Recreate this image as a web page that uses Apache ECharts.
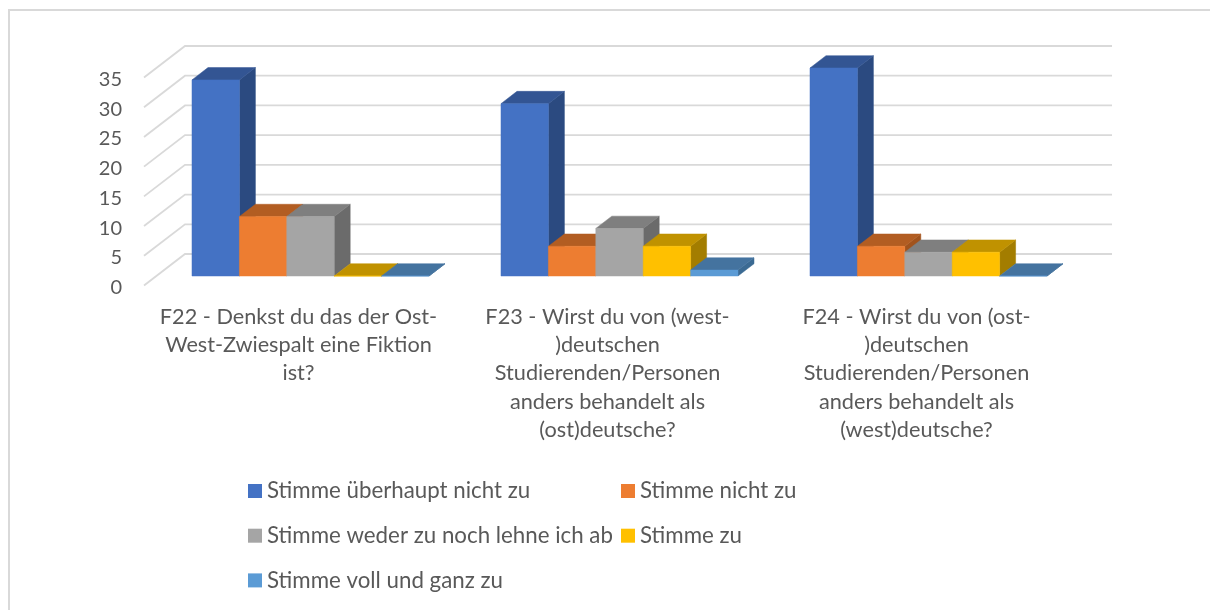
<!DOCTYPE html>
<html>
<head>
<meta charset="utf-8">
<title>F22 - F24</title>
<script src="https://cdn.jsdelivr.net/npm/echarts@6/dist/echarts.min.js"></script>
<style>
  html, body { margin: 0; padding: 0; background: #fff; }
  #main { width: 1210px; height: 610px; }
</style>
</head>
<body>
<div id="main"></div>
<script>
const categories = [
  'F22 - Denkst du das der Ost-\nWest-Zwiespalt eine Fiktion\nist?',
  'F23 - Wirst du von (west-\n)deutschen\nStudierenden/Personen\nanders behandelt als\n(ost)deutsche?',
  'F24 - Wirst du von (ost-\n)deutschen\nStudierenden/Personen\nanders behandelt als\n(west)deutsche?'
]
const tickValues = [0, 5, 10, 15, 20, 25, 30, 35]

const ueberhauptNicht = [33, 29, 35]
const nicht = [10, 5, 5]
const weder = [10, 8, 4]
const zu = [0, 5, 4]
const vollUndGanz = [0, 1, 0]

const seriesNames = [
  'Stimme überhaupt nicht zu',
  'Stimme nicht zu',
  'Stimme weder zu noch lehne ich ab',
  'Stimme zu',
  'Stimme voll und ganz zu'
]
const seriesValues = [ueberhauptNicht, nicht, weder, zu, vollUndGanz]

// front, top, side
const seriesColors = [
  ['#4472c4', '#335593', '#2b4a80'],
  ['#ed7d31', '#b25d22', '#a1531d'],
  ['#a5a5a5', '#7f7f7f', '#6b6b6b'],
  ['#ffc000', '#c09200', '#a37d00'],
  ['#5b9bd5', '#44739f', '#3b6a93']
]

const fontName = 'Lato'
const textColor = '#595959'
const lineColor = '#d9d9d9'

// the grid sits a bit low so the tick labels land right, the drawn floor is lifted back up
const floorLift = -2
// floor of the fake 3d box, in pixels
const wallDx = 41
const wallDy = -31.5
// where a bar front sits inside that floor, and how deep the bar is
const barShiftX = 12
const barShiftY = -11.5
const barDepthX = 16
const barDepthY = -12.3
const barShare = 0.1534

function renderGridLine(params, api) {
  const v = api.value(0)
  const box = params.coordSys
  const y = api.coord([0, v])[1] + floorLift
  return {
    type: 'polyline',
    silent: true,
    shape: {
      points: [
        [box.x, y],
        [box.x + wallDx, y + wallDy],
        [box.x + box.width + wallDx, y + wallDy]
      ]
    },
    style: { stroke: lineColor, lineWidth: 1.8, fill: null }
  }
}

function makeBarRenderer(index) {
  return function (params, api) {
    const cat = api.value(0)
    const val = api.value(1)
    const catWidth = api.size([1, 0])[0]
    const w = catWidth * barShare
    const center = api.coord([cat, 0])[0]
    const x0 = center + (index - 2.5) * w + barShiftX
    const x1 = x0 + w
    const yBase = api.coord([cat, 0])[1] + barShiftY
    const yTop = api.coord([cat, val])[1] + barShiftY
    const c = seriesColors[index]
    const face = (points, fill) => ({
      type: 'polygon',
      shape: { points: points },
      style: { fill: fill, stroke: fill, lineWidth: 0.5 }
    })
    return {
      type: 'group',
      children: [
        face([[x1, yBase], [x1 + barDepthX, yBase + barDepthY], [x1 + barDepthX, yTop + barDepthY], [x1, yTop]], c[2]),
        face([[x0, yTop], [x1, yTop], [x1 + barDepthX, yTop + barDepthY], [x0 + barDepthX, yTop + barDepthY]], c[1]),
        face([[x0, yBase], [x1, yBase], [x1, yTop], [x0, yTop]], c[0])
      ]
    }
  }
}

const barSeries = seriesNames.map((name, i) => ({
  name: name,
  type: 'custom',
  renderItem: makeBarRenderer(i),
  itemStyle: { color: seriesColors[i][0] },
  encode: { x: 0, y: 1 },
  data: seriesValues[i].map((v, c) => [c, v]),
  z: 3
}))

const legendText = { fontFamily: fontName, fontSize: 22.3, color: textColor }

let myChart = echarts.init(document.getElementById('main'), null, { renderer: 'canvas' })
myChart.setOption({
  animation: false,
  backgroundColor: '#fff',
  textStyle: { fontFamily: fontName },
  grid: { left: 144, top: 79.5, width: 927, height: 208 },
  xAxis: {
    type: 'category',
    data: categories,
    axisLine: { show: false },
    axisTick: { show: false },
    axisLabel: {
      interval: 0,
      margin: 15.5,
      fontFamily: fontName,
      fontSize: 21.7,
      lineHeight: 28.2,
      color: textColor,
      align: 'center',
      verticalAlign: 'top'
    }
  },
  yAxis: {
    type: 'value',
    min: 0,
    max: 35,
    interval: 5,
    axisLine: { show: false },
    axisTick: { show: false },
    splitLine: { show: false },
    axisLabel: { margin: 22, fontFamily: fontName, fontSize: 20, color: textColor }
  },
  legend: [
    {
      data: [seriesNames[0], seriesNames[2], seriesNames[4]],
      orient: 'vertical',
      left: 243,
      top: 475,
      itemWidth: 14,
      itemHeight: 14,
      itemGap: 22.7,
      icon: 'rect',
      selectedMode: false,
      textStyle: legendText
    },
    {
      data: [seriesNames[1], seriesNames[3]],
      orient: 'vertical',
      left: 616,
      top: 475,
      itemWidth: 14,
      itemHeight: 14,
      itemGap: 22.7,
      icon: 'rect',
      selectedMode: false,
      textStyle: legendText
    }
  ],
  graphic: [
    {
      type: 'polyline',
      silent: true,
      shape: { points: [[9, 610], [9, 10], [1210, 10]] },
      style: { stroke: lineColor, lineWidth: 2, fill: null }
    }
  ],
  series: [
    {
      type: 'custom',
      renderItem: renderGridLine,
      encode: { y: 0 },
      data: tickValues.map((v) => [v]),
      silent: true,
      z: 1
    }
  ].concat(barSeries)
})
</script>
</body>
</html>
